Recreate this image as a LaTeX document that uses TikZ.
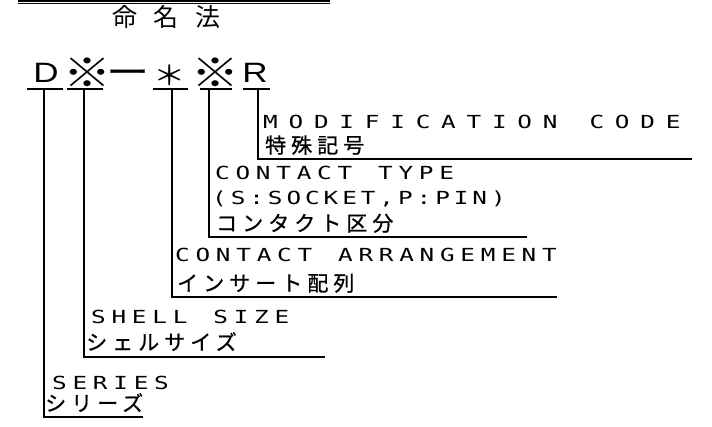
\documentclass[tikz,border=0pt]{standalone}
\usepackage{fontspec}
\setmainfont{Liberation Sans}
\newfontfamily\latfont[FakeStretch=1.35, LetterSpace=32]{DejaVu Sans Mono}
\newfontfamily\widefont[FakeStretch=1.35, LetterSpace=60]{DejaVu Sans Mono}
\newfontfamily\jpfont[LetterSpace=24, FakeBold=0.8]{Noto Sans CJK JP}
\newfontfamily\titlefont[LetterSpace=66]{Noto Sans CJK JP}
\newfontfamily\symfont[FakeStretch=1.2]{Noto Sans CJK JP}
\newfontfamily\codefont[FakeStretch=1.25]{Liberation Sans}
\newcommand\gap{\hspace{26pt}}
\newcommand\widegap{\hspace{32pt}}

\tikzset{
  rule/.style={line width=1.6pt},
  lat/.style={anchor=base west, inner sep=0pt, font=\fontsize{18}{20}\latfont},
  latwide/.style={lat, font=\fontsize{18}{20}\widefont},
  latnarrow/.style={lat, font=\fontsize{18}{20}\latfont\addfontfeature{LetterSpace=22}},
  jp/.style={anchor=base west, inner sep=0pt, font=\fontsize{21}{23}\jpfont},
  headline/.style={anchor=base west, inner sep=0pt, font=\fontsize{25}{27}\titlefont},
  sym/.style={inner sep=0pt, font=\fontsize{40}{42}\symfont},
  letter/.style={inner sep=0pt, font=\fontsize{28}{30}\codefont},
}

\begin{document}
\begin{tikzpicture}[x=1pt, y=-1pt]
  \useasboundingbox (0,0) rectangle (712,427);

  \coordinate (ruleA) at (18,1);
  \coordinate (ruleB) at (330,1);
  \coordinate (ruleC) at (18,3.8);
  \coordinate (ruleD) at (330,3.8);
  \draw[line width=1.2pt] (ruleA) -- (ruleB);
  \draw[line width=0.7pt] (ruleC) -- (ruleD);
  \node[headline] (title) at (112,27) {命名法};

  \node[letter] (cD) at (46,72.5) {D};
  \node[sym] (cShell) at (87.5,73) {※};
  \node[sym, font=\fontsize{36}{38}\symfont] (cDash) at (128.5,78) {ー};
  \node[sym, font=\fontsize{27}{29}\symfont] (cArr) at (170,75) {＊};
  \node[sym] (cType) at (215,73) {※};
  \node[letter] (cMod) at (255,72.5) {R};

  \coordinate (tapD) at (44,89);
  \coordinate (tapShell) at (84,89);
  \coordinate (tapArr) at (172,89);
  \coordinate (tapType) at (209,89);
  \coordinate (tapMod) at (258,89);

  \draw[rule] ([xshift=-17pt]tapD) -- ([xshift=19pt]tapD);
  \draw[rule] ([xshift=-17pt]tapShell) -- ([xshift=19pt]tapShell);
  \draw[rule] ([xshift=-19pt]tapArr) -- ([xshift=16pt]tapArr);
  \draw[rule] ([xshift=-9pt]tapType) -- ([xshift=23pt]tapType);
  \draw[rule] ([xshift=-15pt]tapMod) -- ([xshift=12pt]tapMod);

  \node[latwide] (modEn) at (263,129) {MODIFICATION\widegap CODE};
  \node[jp] (modJp) at (265,153) {特殊記号};
  \node[lat] (typeEn) at (215,180) {CONTACT\gap TYPE};
  \node[latnarrow] (typeSp) at (212,205) {(S:SOCKET,P:PIN)};
  \node[jp] (typeJp) at (216,231) {コンタクト区分};
  \node[lat] (arrEn) at (175,262) {CONTACT\gap ARRANGEMENT};
  \node[jp] (arrJp) at (177,291) {インサート配列};
  \node[lat] (shellEn) at (91,324) {SHELL\gap SIZE};
  \node[jp] (shellJp) at (86,350) {シェルサイズ};
  \node[lat] (serEn) at (52,389) {SERIES};
  \node[jp] (serJp) at (45,411) {シリーズ};

  \coordinate (endMod) at (692,159);
  \coordinate (endType) at (527,237);
  \coordinate (endArr) at (557,297);
  \coordinate (endShell) at (325,357);
  \coordinate (endD) at (143,417);

  \draw[rule] (tapMod) |- (endMod);
  \draw[rule] (tapType) |- (endType);
  \draw[rule] (tapArr) |- (endArr);
  \draw[rule] (tapShell) |- (endShell);
  \draw[rule] (tapD) |- (endD);
\end{tikzpicture}
\end{document}
